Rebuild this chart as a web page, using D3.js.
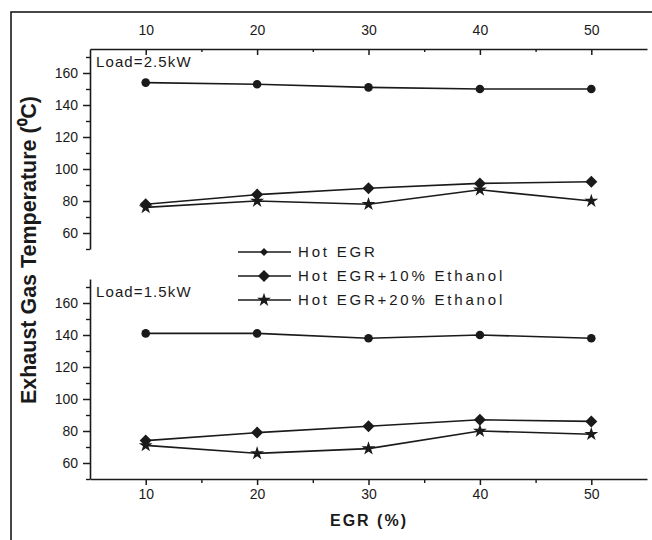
<!DOCTYPE html>
<html>
<head>
<meta charset="utf-8">
<script src="https://cdn.jsdelivr.net/npm/d3@7"></script>
<style>
  html, body { margin: 0; padding: 0; background: #fff; }
  svg { display: block; }
  text { font-family: "Liberation Sans", Arial, sans-serif; fill: #1a1a1a; }
</style>
</head>
<body>
<svg id="chart" width="652" height="540"></svg>
<script>
// ---- data ----
const egr = [10, 20, 30, 40, 50];
const xTicks = [10, 20, 30, 40, 50];
const yTicks = [60, 80, 100, 120, 140, 160];
const seriesNames = ["Hot EGR", "Hot EGR+10% Ethanol", "Hot EGR+20% Ethanol"];
const panelLabels = ["Load=2.5kW", "Load=1.5kW"];
// Load = 2.5 kW
const hot25 = [154, 153, 151, 150, 150];
const eth10_25 = [78, 84, 88, 91, 92];
const eth20_25 = [76, 80, 78, 87, 80];
// Load = 1.5 kW
const hot15 = [141, 141, 138, 140, 138];
const eth10_15 = [74, 79, 83, 87, 86];
const eth20_15 = [71, 66, 69, 80, 78];

const svg = d3.select("#chart");
const ink = "#1a1a1a";

// outer frame
svg.append("rect").attr("x", 11).attr("y", 12).attr("width", 660).attr("height", 560)
  .attr("fill", "none").attr("stroke", ink).attr("stroke-width", 1.6);

const x = d3.scaleLinear().domain([5, 55]).range([90, 647]);
const panels = [
  { top: 49, bottom: 249, data: [hot25, eth10_25, eth20_25], label: panelLabels[0] },
  { top: 279, bottom: 479, data: [hot15, eth10_15, eth20_15], label: panelLabels[1] }
];

function diamondPath(h) { return `M0,${-h}L${h},0L0,${h}L${-h},0Z`; }
const star = d3.symbol().type(d3.symbolStar).size(60);

function drawMarker(g, kind, cx, cy, legend) {
  if (kind === 0) {
    if (legend) g.append("path").attr("d", diamondPath(4)).attr("transform", `translate(${cx},${cy})`).attr("fill", ink);
    else g.append("circle").attr("cx", cx).attr("cy", cy).attr("r", 4.3).attr("fill", ink);
  } else if (kind === 1) {
    g.append("path").attr("d", diamondPath(6)).attr("transform", `translate(${cx},${cy})`).attr("fill", ink);
  } else {
    g.append("path").attr("d", star()).attr("transform", `translate(${cx},${cy})`).attr("fill", ink);
  }
}

panels.forEach((p, pi) => {
  const y = d3.scaleLinear().domain([50, 175]).range([p.bottom, p.top]);
  const g = svg.append("g");

  // y axis minor ticks
  const yMinor = d3.range(50, 176, 10).filter(v => v % 20 !== 0);
  g.append("g").attr("transform", "translate(90,0)")
    .call(d3.axisLeft(y).tickValues(yMinor).tickSize(4).tickFormat(""))
    .call(a => a.select(".domain").remove())
    .selectAll("line").attr("stroke", ink).attr("stroke-width", 1.4);
  // y axis major
  const ya = g.append("g").attr("transform", "translate(90,0)")
    .call(d3.axisLeft(y).tickValues(yTicks).tickSize(7).tickSizeOuter(0).tickPadding(5));
  ya.select(".domain").attr("stroke", ink).attr("stroke-width", 1.6);
  ya.selectAll("line").attr("stroke", ink).attr("stroke-width", 1.5);
  ya.selectAll("text").style("font-size", "14px").attr("fill", "#222");

  // x axis
  const xMinor = [15, 25, 35, 45];
  if (pi === 0) {
    const xa = g.append("g").attr("transform", `translate(0,${p.top})`)
      .call(d3.axisTop(x).tickValues(xTicks).tickSizeInner(-6).tickSizeOuter(0).tickPadding(14));
    xa.select(".domain").attr("stroke", ink).attr("stroke-width", 1.6);
    xa.selectAll("line").attr("stroke", ink).attr("stroke-width", 1.5);
    xa.selectAll("text").style("font-size", "14px").attr("fill", "#222");
    g.append("g").attr("transform", `translate(0,${p.top})`)
      .call(d3.axisTop(x).tickValues(xMinor).tickSize(-3).tickFormat(""))
      .call(a => a.select(".domain").remove())
      .selectAll("line").attr("stroke", ink).attr("stroke-width", 1.4);
  } else {
    const xa = g.append("g").attr("transform", `translate(0,${p.bottom})`)
      .call(d3.axisBottom(x).tickValues(xTicks).tickSize(6).tickSizeOuter(0).tickPadding(4));
    xa.select(".domain").attr("stroke", ink).attr("stroke-width", 1.6);
    xa.selectAll("line").attr("stroke", ink).attr("stroke-width", 1.5);
    xa.selectAll("text").style("font-size", "14px").attr("fill", "#222");
    g.append("g").attr("transform", `translate(0,${p.bottom})`)
      .call(d3.axisBottom(x).tickValues(xMinor).tickSize(4).tickFormat(""))
      .call(a => a.select(".domain").remove())
      .selectAll("line").attr("stroke", ink).attr("stroke-width", 1.4);
  }

  // panel label
  g.append("text").attr("x", 96).attr("y", p.top + 18)
    .style("font-size", "15px").style("letter-spacing", "1.1px").text(p.label);

  // series
  const line = d3.line().x((d, i) => x(egr[i])).y(d => y(d));
  p.data.forEach((vals, si) => {
    g.append("path").datum(vals).attr("d", line)
      .attr("fill", "none").attr("stroke", ink).attr("stroke-width", 1.6);
    vals.forEach((v, i) => drawMarker(g, si, x(egr[i]), y(v), false));
  });
});

// legend
const lg = svg.append("g");
const legendY = [252, 276, 300];
seriesNames.forEach((name, i) => {
  lg.append("line").attr("x1", 238).attr("x2", 291).attr("y1", legendY[i]).attr("y2", legendY[i])
    .attr("stroke", ink).attr("stroke-width", 1.6);
  drawMarker(lg, i, 264, legendY[i], true);
  lg.append("text").attr("x", 298).attr("y", legendY[i]).attr("dy", "0.36em")
    .style("font-size", "15px").style("letter-spacing", "2.8px").text(name);
});

// axis titles
svg.append("text").attr("transform", "translate(36,250) rotate(-90)")
  .attr("text-anchor", "middle").style("font-size", "22px").style("font-weight", "bold")
  .attr("textLength", 308).attr("lengthAdjust", "spacingAndGlyphs")
  .text("Exhaust Gas Temperature (\u2070C)");
svg.append("text").attr("x", 369).attr("y", 526).attr("text-anchor", "middle")
  .style("font-size", "16px").style("font-weight", "bold").style("letter-spacing", "2px")
  .text("EGR (%)");
</script>
</body>
</html>
